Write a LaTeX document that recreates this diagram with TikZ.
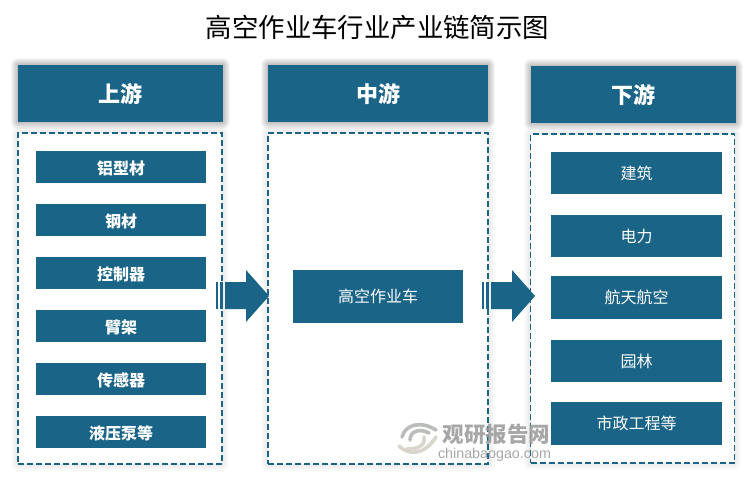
\documentclass[tikz,border=0pt]{standalone}
\usepackage{fontspec}
\setmainfont{Noto Sans CJK SC}
\newfontfamily\wmfont{Liberation Sans}
\definecolor{teal}{HTML}{1A6487}
\definecolor{wmgray}{HTML}{9E9E9E}
\definecolor{wmlogo}{HTML}{B4B6B4}
\definecolor{wmlogob}{HTML}{D4D2C8}
\tikzset{
  headbox/.style={fill=teal,draw=none,text=white,font=\bfseries\fontsize{22}{24}\selectfont,inner sep=0pt},
  itembox/.style={fill=teal,draw=none,text=white,font=\bfseries\fontsize{16}{20}\selectfont,inner sep=0pt},
  itemboxlight/.style={fill=teal,draw=none,text=white,font=\fontsize{16}{20}\selectfont,inner sep=0pt},
  dashbox/.style={draw=teal,line width=1.6pt,dash pattern=on 6pt off 3pt,fill=white},
  flowarrow/.style={fill=teal,draw=none},
  wmline/.style={draw=wmlogo,line width=3.6pt,line cap=round},
  wmlineb/.style={draw=wmlogob,line width=3.6pt,line cap=round}
}
\newcommand{\softshade}[5]{%
  \foreach \d in {1,2,...,7}{%
    \fill[black,opacity=#5,rounded corners=\d pt] (#1-\d,#2-\d) rectangle (#3+\d,#4+\d);
  }}
\begin{document}
\begin{tikzpicture}[x=1pt,y=-1pt]
\useasboundingbox (0,0) rectangle (750,480);
\fill[white] (0,0) rectangle (750,480);
\node[font=\fontsize{26.4}{28}\selectfont,text=black] (title) at (377.5,27.5) {高空作业车行业产业链简示图};
% shadows
\softshade{18}{65}{223}{122}{0.035}
\softshade{268}{65}{488}{122}{0.035}
\softshade{531}{66}{736}{123}{0.035}
\softshade{18}{133}{222}{464}{0.012}
\softshade{268}{133}{488}{464}{0.012}
\softshade{530.5}{134}{734.5}{463}{0.012}
% headers
\node[headbox,minimum width=205pt,minimum height=57pt] (h1) at (120.5,93.5) {上游};
\node[headbox,minimum width=220pt,minimum height=57pt] (h2) at (378,93.5) {中游};
\node[headbox,minimum width=205pt,minimum height=57pt] (h3) at (633.5,94.5) {下游};
% dashed panels
\node[dashbox,minimum width=204pt,minimum height=331pt,inner sep=0pt] (p1) at (120,298.5) {};
\node[dashbox,minimum width=220pt,minimum height=331pt,inner sep=0pt] (p2) at (378,298.5) {};
\node[dashbox,minimum width=204pt,minimum height=329pt,inner sep=0pt] (p3) at (632.5,298.5) {};
% upstream items
\foreach \n/\yc/\t in {a/167/铝型材,b/220/钢材,c/273/控制器,d/326/臂架,e/379/传感器,f/432/液压泵等}{
  \node[itembox,minimum width=170pt,minimum height=32pt,text depth=0pt] (u\n) at (121,\yc) {\raisebox{-1pt}{\t}};
}
% midstream item
\node[itemboxlight,minimum width=170pt,minimum height=53pt] (m) at (378,296.5) {高空作业车};
% downstream items
\node[itemboxlight,minimum width=171pt,minimum height=42pt] (da) at (636.5,173) {建筑};
\node[itemboxlight,minimum width=171pt,minimum height=42pt] (db) at (636.5,236) {电力};
\node[itemboxlight,minimum width=171pt,minimum height=43pt] (dc) at (636.5,297.5) {航天航空};
\node[itemboxlight,minimum width=171pt,minimum height=42pt] (dd) at (636.5,361) {园林};
\node[itemboxlight,minimum width=171pt,minimum height=43pt] (de) at (636.5,423.5) {市政工程等};
% arrows
\fill[flowarrow] (216,282) rectangle (218,309);
\fill[flowarrow] (219.5,282) rectangle (223,309);
\fill[flowarrow] (225,282) -- (246,282) -- (246,270) -- (269,296) -- (246,322) -- (246,309) -- (225,309) -- cycle;
\fill[flowarrow] (482,282) rectangle (484,309);
\fill[flowarrow] (485.5,282) rectangle (489,309);
\fill[flowarrow] (491,282) -- (512,282) -- (512,270) -- (535,296) -- (512,322) -- (512,309) -- (491,309) -- cycle;
% watermark
\begin{scope}[opacity=0.9]
\draw[wmline] (402,437) .. controls (405,425) and (420,420) .. (436,430);
\draw[wmline] (410,440) .. controls (410,431) and (420,428) .. (429,433);
\draw[wmlineb] (399,446) .. controls (408,455) and (424,456) .. (436,437);
\draw[wmlineb] (407,449) .. controls (415,449) and (426,447) .. (424,437);
\node[text=wmgray,font=\bfseries\fontsize{21.5}{23}\selectfont,inner sep=0pt] (wm1) at (496.5,434) {观研报告网};
\node[text=wmgray,font=\wmfont\fontsize{14.3}{15}\selectfont,inner sep=0pt] (wm2) at (494.5,455) {chinabaogao.com};
\end{scope}
\end{tikzpicture}
\end{document}
